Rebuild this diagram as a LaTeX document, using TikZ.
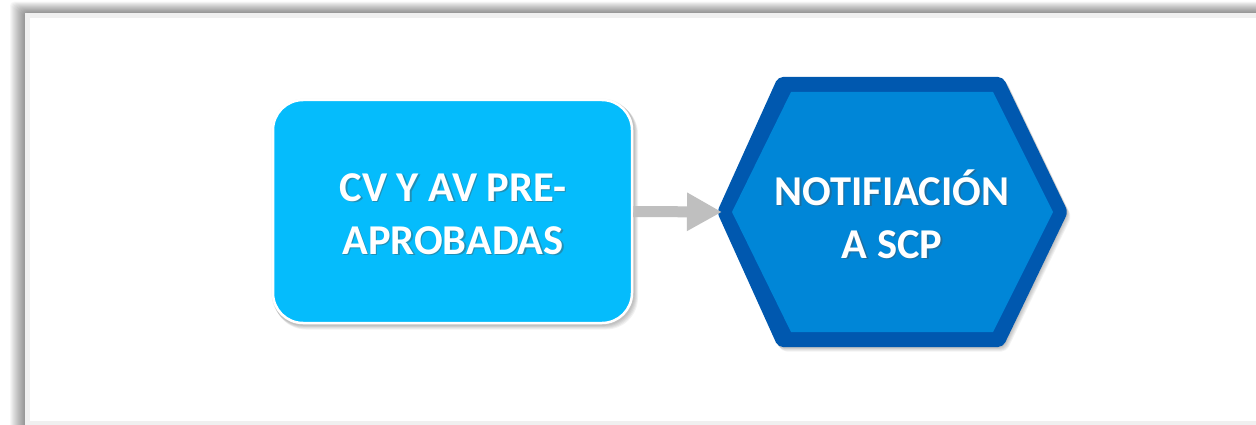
\documentclass[tikz,border=0pt]{standalone}
\usepackage{fontspec}
\setmainfont{Carlito}
\usetikzlibrary{arrows.meta}
\definecolor{boxcyan}{HTML}{05BCFC}
\definecolor{hexfill}{HTML}{0086D7}
\definecolor{hexedge}{HTML}{0058AF}
\definecolor{arrowgray}{HTML}{BFBFBF}
\definecolor{framegray}{HTML}{F0F0F0}
\tikzset{
  lbl/.style={text=white, font=\fontsize{42.5}{53}\selectfont\bfseries, align=center, inner sep=0pt},
  lblshadow/.style={text=black!70, opacity=0.4, font=\fontsize{42.5}{53}\selectfont\bfseries, align=center, inner sep=0pt},
  flow/.style={draw=arrowgray, line width=11pt, -{Triangle[length=35pt,width=36pt]}, shorten >=0pt},
}
\begin{document}
\begin{tikzpicture}[x=1pt,y=-1pt]
\useasboundingbox (0,0) rectangle (1256,425);
\fill[white] (0,0) rectangle (1256,425);
% frame shadow
\foreach \i in {1,...,15}{
  \fill[black, opacity=0.03, rounded corners=4] (25-\i,13-0.75*\i) rectangle (1262,434);
}
\fill[framegray] (25,13) rectangle (1260,432);
\fill[white] (30,18) rectangle (1260,421);
% box shadow
\foreach \i in {1,...,5}{
  \fill[black, opacity=0.05, rounded corners=32] (271+\i*0.6,98+\i*0.8) rectangle (634+\i*0.8,325+\i*0.9);
}
\node[draw=white, line width=2.5pt, fill=boxcyan, rounded corners=30, minimum width=359pt, minimum height=223pt, inner sep=0pt] (a) at (452.5,211.5) {};
\node[lblshadow] at (454.5,215.5) {CV Y AV PRE-\\APROBADAS};
\node[lbl] (at) at (453,214) {CV Y AV PRE-\\APROBADAS};
% hexagon shadow
\foreach \i in {1,...,5}{
  \fill[black, opacity=0.05, rounded corners=5] (717+\i*0.7,212+\i*0.9) -- (778+\i*0.7,77+\i*0.9) -- (1003+\i*0.7,77+\i*0.9) -- (1068+\i*0.7,212+\i*0.9) -- (1003+\i*0.7,347+\i*0.9) -- (778+\i*0.7,347+\i*0.9) -- cycle;
}
\fill[hexedge, rounded corners=5] (717,212) -- (778,77) -- (1003,77) -- (1068,212) -- (1003,347) -- (778,347) -- cycle;
\fill[hexfill] (732,212) -- (791,92) -- (993,92) -- (1053,212) -- (993,332) -- (791,332) -- cycle;
\node[lblshadow] at (893.5,215.5) {NOTIFIACIÓN\\A SCP};
\node[lbl] (b) at (892,214) {NOTIFIACIÓN\\A SCP};
\coordinate (bw) at (722,212);
\draw[flow] (a.east) -- (bw);
\end{tikzpicture}
\end{document}
